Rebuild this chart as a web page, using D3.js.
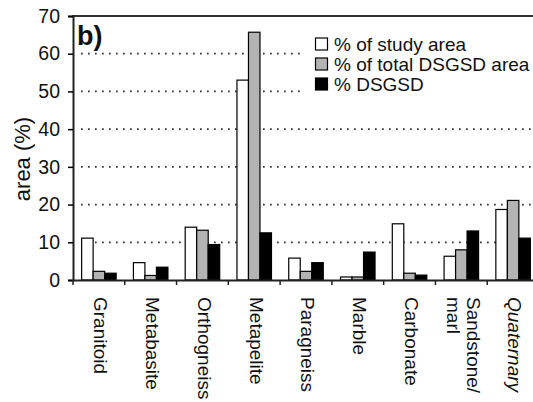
<!DOCTYPE html>
<html>
<head>
<meta charset="utf-8">
<script src="https://cdn.jsdelivr.net/npm/d3@7"></script>
<style>
  body { margin: 0; background: #fff; }
  svg { display: block; font-family: "Liberation Sans", Arial, sans-serif; }
</style>
</head>
<body>
<svg id="chart" width="533" height="402"></svg>
<script>
// *************** DATA ***************
const categories = ["Granitoid", "Metabasite", "Orthogneiss", "Metapelite", "Paragneiss",
                    "Marble", "Carbonate", "Sandstone/\nmarl", "Quaternary"];
const seriesNames = ["% of study area", "% of total DSGSD area", "% DSGSD"];
const studyArea = [11.1, 4.6, 14.0, 53.0, 5.8, 0.8, 14.9, 6.3, 18.7];
const totalDsgsd = [2.3, 1.2, 13.2, 65.7, 2.3, 0.8, 1.8, 8.0, 21.1];
const dsgsd = [1.8, 3.4, 9.4, 12.5, 4.6, 7.4, 1.3, 13.0, 11.1];
const yTicks = [0, 10, 20, 30, 40, 50, 60, 70];

// *************** CONSTANTS ***************
const svg = d3.select("#chart");
const plotLeft = 73, plotRight = 539, plotTop = 16, plotBottom = 280;
const colors = ["#ffffff", "#b3b3b3", "#000000"];
const series = [studyArea, totalDsgsd, dsgsd];

const x = d3.scaleBand()
            .domain(categories)
            .range([plotLeft, plotRight])
            .paddingInner(0)
            .paddingOuter(0);

const xInner = d3.scaleBand()
                 .domain(d3.range(series.length))
                 .range([0, x.bandwidth()])
                 .paddingOuter(0.75)
                 .paddingInner(0);

const y = d3.scaleLinear()
            .domain([0, 70])
            .range([plotBottom, plotTop]);

// *************** GRID ***************
svg.append("g")
   .selectAll("line")
   .data(yTicks.filter(d => d > 0 && d < 70))
   .join("line")
   .attr("x1", plotLeft + 8)
   .attr("x2", 533)
   .attr("y1", d => y(d))
   .attr("y2", d => y(d))
   .attr("stroke", "#333")
   .attr("stroke-width", 1.7)
   .attr("stroke-dasharray", "1.7,5.3");

// *************** BARS ***************
const groups = svg.append("g")
                  .selectAll("g")
                  .data(categories)
                  .join("g")
                  .attr("transform", d => `translate(${x(d)},0)`);

groups.selectAll("rect")
      .data((d, i) => series.map((s, j) => ({ j, v: s[i] })))
      .join("rect")
      .attr("x", d => xInner(d.j))
      .attr("width", xInner.bandwidth())
      .attr("y", d => y(d.v))
      .attr("height", d => y(0) - y(d.v))
      .attr("fill", d => colors[d.j])
      .attr("stroke", "#000")
      .attr("stroke-width", 1.2);

// *************** LEGEND ***************
svg.append("rect")
   .attr("x", 305)
   .attr("y", 29)
   .attr("width", 240)
   .attr("height", 68)
   .attr("fill", "#fff");

const legend = svg.append("g")
                  .selectAll("g")
                  .data(seriesNames)
                  .join("g")
                  .attr("transform", (d, i) => `translate(315,${44 + i * 20})`);

legend.append("rect")
      .attr("x", 0.5)
      .attr("y", -6)
      .attr("width", 12)
      .attr("height", 12)
      .attr("fill", (d, i) => colors[i])
      .attr("stroke", "#000")
      .attr("stroke-width", 1.2);

legend.append("text")
      .attr("x", 19)
      .attr("dy", "0.35em")
      .attr("font-size", 19)
      .attr("fill", "#111")
      .text(d => d);

// *************** AXES ***************
svg.append("line")
   .attr("x1", plotLeft - 1)
   .attr("x2", 533)
   .attr("y1", plotTop)
   .attr("y2", plotTop)
   .attr("stroke", "#333")
   .attr("stroke-width", 2);

const yAxis = svg.append("g")
                 .attr("transform", `translate(${plotLeft},0)`)
                 .call(d3.axisLeft(y).tickValues(yTicks).tickSize(5).tickPadding(8));
yAxis.select(".domain").attr("stroke-width", 2).attr("stroke", "#222");
yAxis.selectAll(".tick line").attr("stroke-width", 1.5);
yAxis.selectAll("text")
     .attr("font-size", 19.5)
     .attr("font-family", "Liberation Sans, Arial, sans-serif")
     .attr("fill", "#111");

const xAxis = svg.append("g")
                 .attr("transform", `translate(0,${plotBottom})`)
                 .call(d3.axisBottom(x).tickSize(0).tickFormat(""));
xAxis.select(".domain").attr("stroke-width", 2).attr("stroke", "#222");

// ticks at band boundaries
svg.append("g")
   .selectAll("line")
   .data(categories)
   .join("line")
   .attr("x1", d => x(d))
   .attr("x2", d => x(d))
   .attr("y1", plotBottom)
   .attr("y2", plotBottom + 5)
   .attr("stroke", "#222")
   .attr("stroke-width", 1.5);

// rotated category labels
const labels = svg.append("g")
                  .selectAll("text")
                  .data(categories)
                  .join("text")
                  .attr("transform", d => `translate(${x(d) + x.bandwidth() / 2 + 2},297) rotate(90)`)
                  .attr("font-size", 19)
                  .attr("fill", "#111")
                  .attr("font-style", d => d === "Quaternary" ? "italic" : "normal");

labels.each(function (d) {
  const lines = d.split("\n");
  const t = d3.select(this);
  lines.forEach((l, i) => {
    t.append("tspan")
     .attr("x", 0)
     .attr("y", (i - (lines.length - 1) / 2) * 20)
     .attr("dy", "0.35em")
     .text(l);
  });
});

// axis title and panel label
svg.append("text")
   .attr("transform", `translate(30,159) rotate(-90)`)
   .attr("text-anchor", "middle")
   .attr("font-size", 22)
   .attr("fill", "#111")
   .text("area (%)");

svg.append("text")
   .attr("x", 77)
   .attr("y", 45)
   .attr("font-size", 27)
   .attr("font-weight", "bold")
   .attr("fill", "#111")
   .text("b)");
</script>
</body>
</html>
